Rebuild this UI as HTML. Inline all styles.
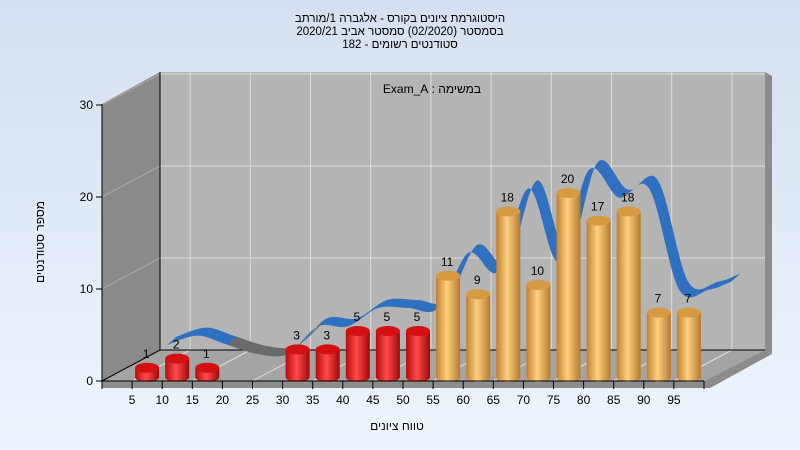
<!DOCTYPE html>
<html><head><meta charset="utf-8">
<style>
body{margin:0;width:800px;height:450px;overflow:hidden;font-family:"Liberation Sans",sans-serif;}
svg{display:block}
</style></head>
<body>
<svg id="chart" width="800" height="450" viewBox="0 0 800 450">
<defs>
<linearGradient id="bg" x1="0" y1="0" x2="0" y2="1"><stop offset="0" stop-color="#d4e0f1"/><stop offset="1" stop-color="#eef5fd"/></linearGradient>
<linearGradient id="red" x1="0" y1="0" x2="1" y2="0"><stop offset="0" stop-color="#b40c0c"/><stop offset="0.45" stop-color="#ff4a4a"/><stop offset="1" stop-color="#a00808"/></linearGradient>
<linearGradient id="org" x1="0" y1="0" x2="1" y2="0"><stop offset="0" stop-color="#c08030"/><stop offset="0.45" stop-color="#ffd080"/><stop offset="1" stop-color="#b47a2c"/></linearGradient>
</defs>
<rect width="800" height="450" fill="url(#bg)"/>
<g font-size="11.5" fill="#000" text-anchor="middle">
<text x="400" y="22" direction="rtl">היסטוגרמת ציונים בקורס - אלגברה 1/מורתב</text>
<text x="400" y="35" direction="rtl">בסמסטר  (02/2020)  סמסטר אביב 2020/21</text>
<text x="400" y="48" direction="rtl">סטודנטים רשומים - 182</text>
</g>
<polygon points="102,104 160,72 160,350 102,381" fill="#8a8a8a"/>
<polygon points="160,72 765,72 765,350 160,350" fill="#b4b4b4"/>
<polygon points="765,72 772,76 772,354 765,350" fill="#8c8c8c"/>
<polygon points="102,381 160,350 765,350 704,381" fill="#a4a4a4"/>
<polygon points="704,381 765,350 772,354 710,388 102,388 102,381" fill="#8c8c8c"/>
<g id="grid" stroke="#dcdcdc" stroke-width="1"></g>
<line x1="160" y1="72" x2="160" y2="350" stroke="#000"/>
<line x1="160" y1="350" x2="765" y2="350" stroke="#000"/>
<line x1="102" y1="381" x2="160" y2="350" stroke="#000"/>
<text x="432" y="93" font-size="12" text-anchor="middle" direction="rtl">במשימה : Exam_A</text>
<g id="ribbon"></g>
<g id="bars"></g>
<g id="axes" font-size="12"></g>
<text x="397" y="430" font-size="12" text-anchor="middle" direction="rtl">טווח ציונים</text>
<text x="0" y="0" font-size="12" text-anchor="middle" direction="rtl" transform="translate(44,242) rotate(-90)">מספר סטודנטים</text>
</svg>
<script>
const categories=[5,10,15,20,25,30,35,40,45,50,55,60,65,70,75,80,85,90,95];
const counts=[1,2,1,0,0,3,3,5,5,5,11,9,18,10,20,17,18,7,7];
const yTicks=[0,10,20,30];
const NS="http://www.w3.org/2000/svg";
const X0=102,STEP=30.1,Y0=381,PX=9.2,DX=58,DY=31;
const xTick=i=>X0+STEP*(i+1);
const yScale=v=>Y0-PX*v;
function mk(tag,attrs,parent){const e=document.createElementNS(NS,tag);for(const k in attrs)e.setAttribute(k,attrs[k]);parent.appendChild(e);return e;}
const grid=document.getElementById('grid'),axes=document.getElementById('axes'),bars=document.getElementById('bars'),rib=document.getElementById('ribbon');
yTicks.slice(1).forEach(t=>{const y=yScale(t)-DY;const l=mk('line',{x1:160,y1:y,x2:765,y2:y},grid);
 mk('line',{x1:102,y1:yScale(t),x2:160,y2:y,stroke:'#a8a8a8'},grid);});
for(let i=1;i<20;i+=2){const x=X0+STEP*i+DX;const l=mk('line',{x1:x,y1:72,x2:x,y2:350},grid);
 mk('line',{x1:x-DX,y1:381,x2:x,y2:350},grid);}
mk('line',{x1:X0,y1:104,x2:X0,y2:Y0,stroke:'#000'},axes);
mk('line',{x1:X0,y1:Y0,x2:704,y2:Y0,stroke:'#000'},axes);
yTicks.forEach(t=>{const y=yScale(t);mk('line',{x1:X0-6,y1:y,x2:X0,y2:y,stroke:'#000'},axes);
 const tx=mk('text',{x:X0-9,y:y+4,'text-anchor':'end'},axes);tx.textContent=t;
 });
mk('line',{x1:X0,y1:Y0,x2:X0,y2:Y0+8,stroke:'#000'},axes);
categories.forEach((c,i)=>{const x=xTick(i);mk('line',{x1:x,y1:Y0,x2:x,y2:Y0+8,stroke:'#000'},axes);
 const tx=mk('text',{x:x,y:Y0+23,'text-anchor':'middle'},axes);tx.textContent=c;
 });
mk('line',{x1:704,y1:Y0,x2:704,y2:Y0+8,stroke:'#000'},axes);
const pts=counts.map((v,i)=>[xTick(i)+15+DX*0.35,yScale(v)-DY+4]);
pts.push([pts[pts.length-1][0]+22,pts[pts.length-1][1]-8]);
function curve(p,ox,oy){let d='';for(let i=0;i<p.length-1;i++){const p0=p[Math.max(0,i-1)],p1=p[i],p2=p[i+1],p3=p[Math.min(p.length-1,i+2)];
 const c1=[p1[0]+(p2[0]-p0[0])/6,p1[1]+(p2[1]-p0[1])/6],c2=[p2[0]-(p3[0]-p1[0])/6,p2[1]-(p3[1]-p1[1])/6];
 d+=` C${c1[0]+ox},${c1[1]+oy} ${c2[0]+ox},${c2[1]+oy} ${p2[0]+ox},${p2[1]+oy}`;}return d;}
const rp=mk('path',{d:`M${pts[0][0]},${pts[0][1]}`+curve(pts,0,0)+` L${pts[pts.length-1][0]+9},${pts[pts.length-1][1]-8}`+curve(pts.slice().reverse(),9,-8)+'Z',fill:'#3070c0'},rib);

const gp=pts.slice(2,6);
const gr=mk('path',{d:`M${gp[0][0]},${gp[0][1]}`+curve(gp,0,0)+curve(gp.slice().reverse(),9,-8).replace(/^ C/,` L${gp[gp.length-1][0]+9},${gp[gp.length-1][1]-8} C`)+'Z',fill:'#6a6a6a'},rib);

counts.forEach((v,i)=>{const cx=xTick(i)+15,w=24,yb=Y0-4,yt=yScale(v)-4,ry=5;
 const g=mk('g',{},bars);
 if(v>0){const fill=i<10?'url(#red)':'url(#org)',top=i<10?'#d41010':'#d89a40';
 mk('path',{d:`M${cx-w/2},${yt} L${cx-w/2},${yb} A${w/2},${ry} 0 0 0 ${cx+w/2},${yb} L${cx+w/2},${yt} Z`,fill:fill},g);
 mk('ellipse',{cx:cx,cy:yt,rx:w/2,ry:ry,fill:top},g);
 const t=mk('text',{x:cx-1,y:yt-10,'font-size':12,'text-anchor':'middle'},g);t.textContent=v;}
});
</script>
</body></html>
